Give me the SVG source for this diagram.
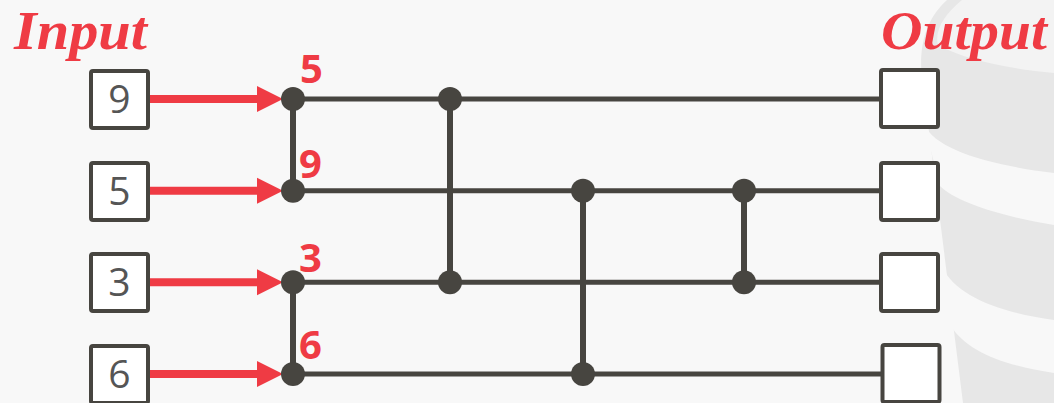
<svg xmlns="http://www.w3.org/2000/svg" width="1054" height="403" viewBox="0 0 1054 403">
  <defs>
    <style>
      .bg { fill: #f8f8f8; }
      .wm { fill: #e7e7e7; }
      .wmlight { fill: #f8f8f8; }
      .box { fill: #ffffff; stroke: #474540; stroke-width: 4; }
      .val { font-family: "Open Sans", "Liberation Sans", sans-serif; font-size: 39px; fill: #555555; text-anchor: middle; }
      .title { font-family: "Liberation Serif", serif; font-weight: bold; font-style: italic; font-size: 55px; fill: #ef3b44; }
      .num { font-family: "Open Sans", "Liberation Sans", sans-serif; font-weight: bold; font-size: 40px; fill: #ef3b44; }
      .wire { stroke: #474540; stroke-width: 5; fill: none; }
      .cmp { stroke: #474540; stroke-width: 6; fill: none; }
      .dot { fill: #474540; }
      .arrow { stroke: #ef3b44; stroke-width: 8; fill: none; }
      .head { fill: #ef3b44; }
    </style>
  </defs>

  <rect class="bg" x="0" y="0" width="1054" height="403"/>

  <!-- watermark -->
  <g id="watermark">
    <path class="wm" d="M 947,0 C 925,20 915,50 925,100 L 963,403 L 1054,403 L 1054,0 Z"/>
    <path fill="#f3f3f3" d="M 962,0 C 945,14 934,30 938,45 C 965,60 1010,69 1054,73 L 1054,0 Z"/>
    <path class="wmlight" d="M 924,124 C 935,150 990,165 1054,173 L 1054,225 C 1000,216 956,202 940,186 Z"/>
    <path class="wmlight" d="M 943,268 C 955,295 1000,313 1054,320 L 1054,373 C 1005,366 966,351 951,326 Z"/>
  </g>

  <text id="title-input" class="title" x="14" y="49" textLength="133" lengthAdjust="spacingAndGlyphs">Input</text>
  <text id="title-output" class="title" x="881" y="49" textLength="166" lengthAdjust="spacingAndGlyphs">Output</text>

  <g id="connectors">
    <!-- horizontal wires -->
    <line class="wire" x1="293" y1="99" x2="881" y2="99"/>
    <line class="wire" x1="293" y1="190.7" x2="881" y2="190.7"/>
    <line class="wire" x1="293" y1="282.3" x2="881" y2="282.3"/>
    <line class="wire" x1="293" y1="374" x2="881" y2="374"/>
    <!-- comparators -->
    <line class="cmp" x1="293" y1="99" x2="293" y2="190.7"/>
    <line class="cmp" x1="293" y1="282.3" x2="293" y2="374"/>
    <line class="cmp" x1="450" y1="99" x2="450" y2="282.3"/>
    <line class="cmp" x1="583" y1="190.7" x2="583" y2="374"/>
    <line class="cmp" x1="744" y1="190.7" x2="744" y2="282.3"/>
    <!-- input arrows -->
    <line class="arrow" x1="150" y1="99" x2="260" y2="99"/>
    <polygon class="head" points="257,86 283,99 257,112"/>
    <line class="arrow" x1="150" y1="190.7" x2="260" y2="190.7"/>
    <polygon class="head" points="257,177.7 283,190.7 257,203.7"/>
    <line class="arrow" x1="150" y1="282.3" x2="260" y2="282.3"/>
    <polygon class="head" points="257,269.3 283,282.3 257,295.3"/>
    <line class="arrow" x1="150" y1="374" x2="260" y2="374"/>
    <polygon class="head" points="257,361 283,374 257,387"/>
  </g>

  <g id="comparator-dots">
    <circle class="dot" cx="293" cy="99" r="12"/>
    <circle class="dot" cx="293" cy="190.7" r="12"/>
    <circle class="dot" cx="293" cy="282.3" r="12"/>
    <circle class="dot" cx="293" cy="374" r="12"/>
    <circle class="dot" cx="450" cy="99" r="12"/>
    <circle class="dot" cx="450" cy="282.3" r="12"/>
    <circle class="dot" cx="583" cy="190.7" r="12"/>
    <circle class="dot" cx="583" cy="374" r="12"/>
    <circle class="dot" cx="744" cy="190.7" r="12"/>
    <circle class="dot" cx="744" cy="282.3" r="12"/>
  </g>

  <g id="labels">
    <text class="num" x="300" y="83">5</text>
    <text class="num" x="299" y="178">9</text>
    <text class="num" x="299" y="272">3</text>
    <text class="num" x="299" y="359">6</text>
  </g>

  <g id="in-1"><rect class="box" x="91" y="71" width="57" height="57" rx="2"/><text class="val" x="119.5" y="113">9</text></g>
  <g id="in-2"><rect class="box" x="91" y="163" width="57" height="57" rx="2"/><text class="val" x="119.5" y="205">5</text></g>
  <g id="in-3"><rect class="box" x="91" y="254" width="57" height="57" rx="2"/><text class="val" x="119.5" y="296">3</text></g>
  <g id="in-4"><rect class="box" x="91" y="346" width="57" height="57" rx="2"/><text class="val" x="119.5" y="388">6</text></g>

  <g id="out-1"><rect class="box" x="881" y="70" width="57" height="57" rx="2"/></g>
  <g id="out-2"><rect class="box" x="881" y="163" width="57" height="57" rx="2"/></g>
  <g id="out-3"><rect class="box" x="881" y="254" width="57" height="57" rx="2"/></g>
  <g id="out-4"><rect class="box" x="882.5" y="345" width="57" height="57" rx="2"/></g>
</svg>
